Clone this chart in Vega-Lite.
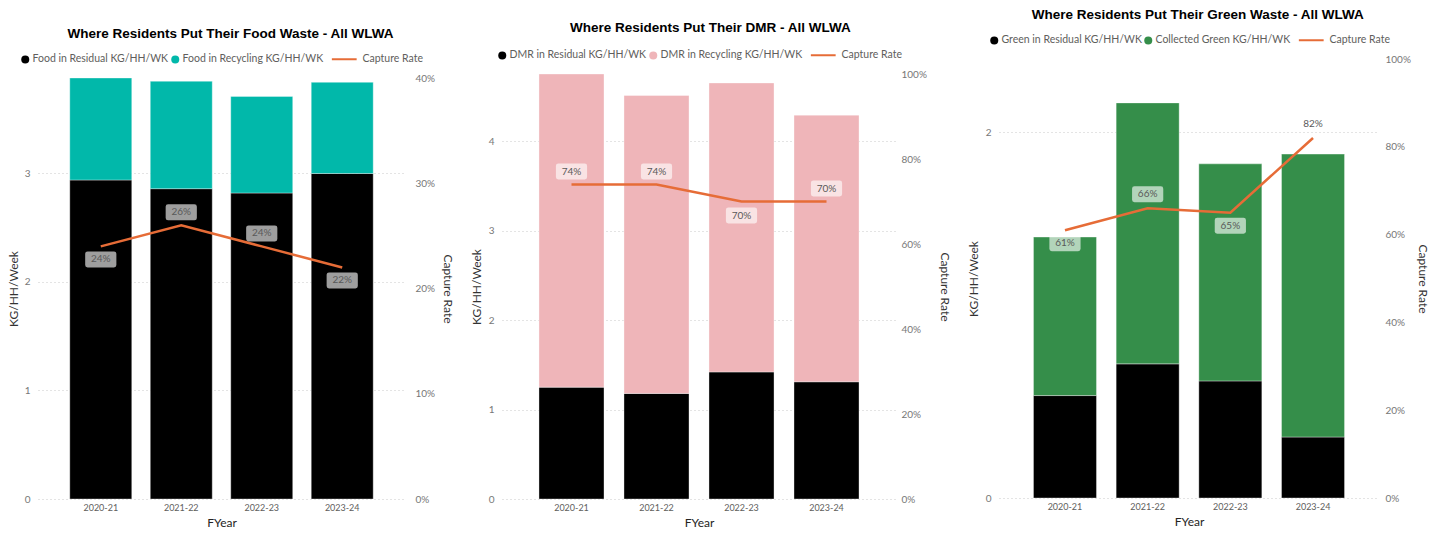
{
  "$schema": "https://vega.github.io/schema/vega-lite/v6.json",
  "background": "white",
  "padding": {"left": 7, "top": 0, "right": 0, "bottom": 0},
  "datasets": {
    "food": [
      {"FYear": "2020-21", "series": "Food in Residual KG/HH/WK", "kg": 2.94},
      {"FYear": "2020-21", "series": "Food in Recycling KG/HH/WK", "kg": 0.94},
      {"FYear": "2021-22", "series": "Food in Residual KG/HH/WK", "kg": 2.86},
      {"FYear": "2021-22", "series": "Food in Recycling KG/HH/WK", "kg": 0.99},
      {"FYear": "2022-23", "series": "Food in Residual KG/HH/WK", "kg": 2.82},
      {"FYear": "2022-23", "series": "Food in Recycling KG/HH/WK", "kg": 0.89},
      {"FYear": "2023-24", "series": "Food in Residual KG/HH/WK", "kg": 3.0},
      {"FYear": "2023-24", "series": "Food in Recycling KG/HH/WK", "kg": 0.84}
    ],
    "foodRate": [
      {"FYear": "2020-21", "rate": 0.24},
      {"FYear": "2021-22", "rate": 0.26},
      {"FYear": "2022-23", "rate": 0.24},
      {"FYear": "2023-24", "rate": 0.22}
    ],
    "dmr": [
      {"FYear": "2020-21", "series": "DMR in Residual KG/HH/WK", "kg": 1.25},
      {"FYear": "2020-21", "series": "DMR in Recycling KG/HH/WK", "kg": 3.5},
      {"FYear": "2021-22", "series": "DMR in Residual KG/HH/WK", "kg": 1.18},
      {"FYear": "2021-22", "series": "DMR in Recycling KG/HH/WK", "kg": 3.33},
      {"FYear": "2022-23", "series": "DMR in Residual KG/HH/WK", "kg": 1.42},
      {"FYear": "2022-23", "series": "DMR in Recycling KG/HH/WK", "kg": 3.23},
      {"FYear": "2023-24", "series": "DMR in Residual KG/HH/WK", "kg": 1.31},
      {"FYear": "2023-24", "series": "DMR in Recycling KG/HH/WK", "kg": 2.98}
    ],
    "dmrRate": [
      {"FYear": "2020-21", "rate": 0.74},
      {"FYear": "2021-22", "rate": 0.74},
      {"FYear": "2022-23", "rate": 0.7},
      {"FYear": "2023-24", "rate": 0.7}
    ],
    "green": [
      {"FYear": "2020-21", "series": "Green in Residual KG/HH/WK", "kg": 0.42},
      {"FYear": "2020-21", "series": "Collected Green KG/HH/WK", "kg": 0.65},
      {"FYear": "2021-22", "series": "Green in Residual KG/HH/WK", "kg": 0.55},
      {"FYear": "2021-22", "series": "Collected Green KG/HH/WK", "kg": 1.07},
      {"FYear": "2022-23", "series": "Green in Residual KG/HH/WK", "kg": 0.48},
      {"FYear": "2022-23", "series": "Collected Green KG/HH/WK", "kg": 0.89},
      {"FYear": "2023-24", "series": "Green in Residual KG/HH/WK", "kg": 0.25},
      {"FYear": "2023-24", "series": "Collected Green KG/HH/WK", "kg": 1.16}
    ],
    "greenRate": [
      {"FYear": "2020-21", "rate": 0.61},
      {"FYear": "2021-22", "rate": 0.66},
      {"FYear": "2022-23", "rate": 0.65},
      {"FYear": "2023-24", "rate": 0.82}
    ]
  },
  "hconcat": [
    {
      "spacing": 0,
      "resolve": {
        "scale": {"x": "independent", "y": "independent", "color": "independent", "stroke": "independent"},
        "legend": {"color": "independent", "stroke": "independent"}
      },
      "vconcat": [
        {"height": 26, "width": 1, "data": {"values": []}, "mark": "point"},
        {
          "width": 367,
          "height": 421,
          "title": {"text": "Where Residents Put Their Food Waste - All WLWA", "frame": "bounds", "anchor": "middle", "offset": 14},
          "encoding": {
            "x": {"field": "FYear", "type": "nominal", "scale": {"paddingInner": 0.23, "paddingOuter": 0.395}, "axis": {"title": "FYear", "labelAngle": 0, "labelPadding": 4, "titlePadding": 5}}
          },
          "layer": [
            {
              "data": {"name": "food"},
              "mark": {"type": "bar", "stroke": "white", "strokeOpacity": 0.35, "strokeWidth": 1},
              "encoding": {
                "y": {"field": "kg", "type": "quantitative", "stack": "zero", "scale": {"domain": [0, 3.88], "nice": false}, "axis": {"orient": "left", "title": "KG/HH/Week", "values": [0, 0.5, 1, 1.5, 2, 2.5, 3, 3.5], "format": "d", "grid": true, "labelPadding": 8, "titlePadding": 4}},
                "color": {"field": "series", "type": "nominal", "scale": {"domain": ["Food in Residual KG/HH/WK", "Food in Recycling KG/HH/WK"], "range": ["#000000", "#01B8AA"]}, "legend": {"orient": "top", "direction": "horizontal", "title": null, "symbolType": "circle", "symbolSize": 64, "labelOffset": 2, "columnPadding": 1, "symbolStrokeWidth": 0}},
                "order": {"field": "series", "sort": "descending"}
              }
            },
            {
              "data": {"name": "foodRate"},
              "encoding": {
                "y": {"field": "rate", "type": "quantitative", "scale": {"domain": [0, 0.4], "nice": false}, "axis": {"orient": "right", "title": "Capture Rate", "values": [0, 0.1, 0.2, 0.3, 0.4], "format": ".0%", "labelPadding": 10, "titlePadding": 6}}
              },
              "layer": [
                {"mark": {"type": "line", "strokeWidth": 2.5}, "encoding": {"stroke": {"datum": "Capture Rate", "scale": {"domain": ["Capture Rate"], "range": ["#E66C37"]}, "legend": {"orient": "top", "title": null, "symbolType": "M-3.1,0H3.1", "symbolSize": 64, "symbolStrokeWidth": 2, "labelOffset": 13}}}},
                {"transform": [{"filter": {"field": "FYear", "oneOf": ["2021-22", "2022-23"]}}], "mark": {"type": "point", "shape": "M-1.65,-1L1.65,-1Q1.95,-1 1.95,-0.7L1.95,0.7Q1.95,1 1.65,1L-1.65,1Q-1.95,1 -1.95,0.7L-1.95,-0.7Q-1.95,-1 -1.65,-1Z", "size": 256, "filled": true, "color": "white", "opacity": 0.62, "strokeWidth": 0, "yOffset": -13}},
                {"transform": [{"filter": {"field": "FYear", "oneOf": ["2021-22", "2022-23"]}}], "mark": {"type": "text", "fontSize": 10, "color": "#595959", "yOffset": -13}, "encoding": {"text": {"field": "rate", "format": ".0%"}}},
                {"transform": [{"filter": {"field": "FYear", "oneOf": ["2020-21", "2023-24"]}}], "mark": {"type": "point", "shape": "M-1.65,-1L1.65,-1Q1.95,-1 1.95,-0.7L1.95,0.7Q1.95,1 1.65,1L-1.65,1Q-1.95,1 -1.95,0.7L-1.95,-0.7Q-1.95,-1 -1.65,-1Z", "size": 256, "filled": true, "color": "white", "opacity": 0.62, "strokeWidth": 0, "yOffset": 13}},
                {"transform": [{"filter": {"field": "FYear", "oneOf": ["2020-21", "2023-24"]}}], "mark": {"type": "text", "fontSize": 10, "color": "#595959", "yOffset": 13}, "encoding": {"text": {"field": "rate", "format": ".0%"}}}
              ]
            }
          ],
          "resolve": {"scale": {"y": "independent"}, "axis": {"y": "independent"}}
        }
      ]
    },
    {
      "spacing": 0,
      "resolve": {
        "scale": {"x": "independent", "y": "independent", "color": "independent", "stroke": "independent"},
        "legend": {"color": "independent", "stroke": "independent"}
      },
      "vconcat": [
        {"height": 20, "width": 1, "data": {"values": []}, "mark": "point"},
        {
          "width": 394,
          "height": 425,
          "title": {"text": "Where Residents Put Their DMR - All WLWA", "frame": "bounds", "anchor": "middle", "offset": 16},
          "encoding": {
            "x": {"field": "FYear", "type": "nominal", "scale": {"paddingInner": 0.235, "paddingOuter": 0.435}, "axis": {"title": "FYear", "labelAngle": 0, "labelPadding": 4, "titlePadding": 5}}
          },
          "layer": [
            {
              "data": {"name": "dmr"},
              "mark": {"type": "bar", "stroke": "white", "strokeOpacity": 0.35, "strokeWidth": 1},
              "encoding": {
                "y": {"field": "kg", "type": "quantitative", "stack": "zero", "scale": {"domain": [0, 4.75], "nice": false}, "axis": {"orient": "left", "title": "KG/HH/Week", "values": [0, 1, 2, 3, 4], "format": "d", "grid": true, "labelPadding": 8, "titlePadding": 5}},
                "color": {"field": "series", "type": "nominal", "scale": {"domain": ["DMR in Residual KG/HH/WK", "DMR in Recycling KG/HH/WK"], "range": ["#000000", "#EFB5B9"]}, "legend": {"orient": "top", "direction": "horizontal", "title": null, "symbolType": "circle", "symbolSize": 64, "labelOffset": 2, "columnPadding": 1, "symbolStrokeWidth": 0}},
                "order": {"field": "series", "sort": "descending"}
              }
            },
            {
              "data": {"name": "dmrRate"},
              "encoding": {
                "y": {"field": "rate", "type": "quantitative", "scale": {"domain": [0, 1], "nice": false}, "axis": {"orient": "right", "title": "Capture Rate", "values": [0, 0.2, 0.4, 0.6, 0.8, 1], "format": ".0%", "labelPadding": 5, "titlePadding": 11}}
              },
              "layer": [
                {"mark": {"type": "line", "strokeWidth": 2.5}, "encoding": {"stroke": {"datum": "Capture Rate", "scale": {"domain": ["Capture Rate"], "range": ["#E66C37"]}, "legend": {"orient": "top", "title": null, "symbolType": "M-3.1,0H3.1", "symbolSize": 64, "symbolStrokeWidth": 2, "labelOffset": 13}}}},
                {"transform": [{"filter": {"field": "FYear", "oneOf": ["2020-21", "2021-22", "2023-24"]}}], "mark": {"type": "point", "shape": "M-1.65,-1L1.65,-1Q1.95,-1 1.95,-0.7L1.95,0.7Q1.95,1 1.65,1L-1.65,1Q-1.95,1 -1.95,0.7L-1.95,-0.7Q-1.95,-1 -1.65,-1Z", "size": 256, "filled": true, "color": "white", "opacity": 0.62, "strokeWidth": 0, "yOffset": -13}},
                {"transform": [{"filter": {"field": "FYear", "oneOf": ["2020-21", "2021-22", "2023-24"]}}], "mark": {"type": "text", "fontSize": 10, "color": "#595959", "yOffset": -13}, "encoding": {"text": {"field": "rate", "format": ".0%"}}},
                {"transform": [{"filter": {"field": "FYear", "oneOf": ["2022-23"]}}], "mark": {"type": "point", "shape": "M-1.65,-1L1.65,-1Q1.95,-1 1.95,-0.7L1.95,0.7Q1.95,1 1.65,1L-1.65,1Q-1.95,1 -1.95,0.7L-1.95,-0.7Q-1.95,-1 -1.65,-1Z", "size": 256, "filled": true, "color": "white", "opacity": 0.62, "strokeWidth": 0, "yOffset": 14}},
                {"transform": [{"filter": {"field": "FYear", "oneOf": ["2022-23"]}}], "mark": {"type": "text", "fontSize": 10, "color": "#595959", "yOffset": 14}, "encoding": {"text": {"field": "rate", "format": ".0%"}}}
              ]
            }
          ],
          "resolve": {"scale": {"y": "independent"}, "axis": {"y": "independent"}}
        }
      ]
    },
    {
      "spacing": 0,
      "resolve": {
        "scale": {"x": "independent", "y": "independent", "color": "independent", "stroke": "independent"},
        "legend": {"color": "independent", "stroke": "independent"}
      },
      "vconcat": [
        {"height": 7, "width": 1, "data": {"values": []}, "mark": "point"},
        {
          "width": 380,
          "height": 439,
          "title": {"text": "Where Residents Put Their Green Waste - All WLWA", "frame": "bounds", "anchor": "middle", "offset": 14},
          "encoding": {
            "x": {"field": "FYear", "type": "nominal", "scale": {"paddingInner": 0.238, "paddingOuter": 0.417}, "axis": {"title": "FYear", "labelAngle": 0, "labelPadding": 4, "titlePadding": 5}}
          },
          "layer": [
            {
              "data": {"name": "green"},
              "mark": {"type": "bar", "stroke": "white", "strokeOpacity": 0.35, "strokeWidth": 1},
              "encoding": {
                "y": {"field": "kg", "type": "quantitative", "stack": "zero", "scale": {"domain": [0, 1.8], "nice": false}, "axis": {"orient": "left", "title": "KG/HH/Week", "values": [0, 0.5, 1, 1.5], "format": "d", "grid": true, "labelPadding": 8, "titlePadding": 5}},
                "color": {"field": "series", "type": "nominal", "scale": {"domain": ["Green in Residual KG/HH/WK", "Collected Green KG/HH/WK"], "range": ["#000000", "#358E4A"]}, "legend": {"orient": "top", "direction": "horizontal", "title": null, "symbolType": "circle", "symbolSize": 64, "labelOffset": 2, "columnPadding": 1, "symbolStrokeWidth": 0}},
                "order": {"field": "series", "sort": "descending"}
              }
            },
            {
              "data": {"name": "greenRate"},
              "encoding": {
                "y": {"field": "rate", "type": "quantitative", "scale": {"domain": [0, 1], "nice": false}, "axis": {"orient": "right", "title": "Capture Rate", "values": [0, 0.2, 0.4, 0.6, 0.8, 1], "format": ".0%", "labelPadding": 6, "titlePadding": 5}}
              },
              "layer": [
                {"mark": {"type": "line", "strokeWidth": 2.5}, "encoding": {"stroke": {"datum": "Capture Rate", "scale": {"domain": ["Capture Rate"], "range": ["#E66C37"]}, "legend": {"orient": "top", "title": null, "symbolType": "M-3.1,0H3.1", "symbolSize": 64, "symbolStrokeWidth": 2, "labelOffset": 13}}}},
                {"transform": [{"filter": {"field": "FYear", "oneOf": ["2021-22", "2023-24"]}}], "mark": {"type": "point", "shape": "M-1.65,-1L1.65,-1Q1.95,-1 1.95,-0.7L1.95,0.7Q1.95,1 1.65,1L-1.65,1Q-1.95,1 -1.95,0.7L-1.95,-0.7Q-1.95,-1 -1.65,-1Z", "size": 256, "filled": true, "color": "white", "opacity": 0.62, "strokeWidth": 0, "yOffset": -14}},
                {"transform": [{"filter": {"field": "FYear", "oneOf": ["2021-22", "2023-24"]}}], "mark": {"type": "text", "fontSize": 10, "color": "#595959", "yOffset": -14}, "encoding": {"text": {"field": "rate", "format": ".0%"}}},
                {"transform": [{"filter": {"field": "FYear", "oneOf": ["2020-21", "2022-23"]}}], "mark": {"type": "point", "shape": "M-1.65,-1L1.65,-1Q1.95,-1 1.95,-0.7L1.95,0.7Q1.95,1 1.65,1L-1.65,1Q-1.95,1 -1.95,0.7L-1.95,-0.7Q-1.95,-1 -1.65,-1Z", "size": 256, "filled": true, "color": "white", "opacity": 0.62, "strokeWidth": 0, "yOffset": 13}},
                {"transform": [{"filter": {"field": "FYear", "oneOf": ["2020-21", "2022-23"]}}], "mark": {"type": "text", "fontSize": 10, "color": "#595959", "yOffset": 13}, "encoding": {"text": {"field": "rate", "format": ".0%"}}}
              ]
            }
          ],
          "resolve": {"scale": {"y": "independent"}, "axis": {"y": "independent"}}
        }
      ]
    }
  ],
  "spacing": 16,
  "resolve": {
    "scale": {"x": "independent", "y": "independent", "color": "independent", "stroke": "independent"},
    "legend": {"color": "independent", "stroke": "independent"}
  },
  "config": {
    "view": {"stroke": null},
    "font": "Lato",
    "title": {"font": "Liberation Sans", "fontSize": 13.5, "fontWeight": "bold", "color": "#000000"},
    "axis": {"labelFont": "Lato", "labelFontSize": 10, "labelColor": "#777777", "titleFont": "Lato", "titleFontSize": 12, "titleFontWeight": "normal", "titleColor": "#333333", "domain": false, "ticks": false, "grid": false, "gridColor": "#C8C8C8", "gridDash": [1, 3]},
    "axisX": {"labelColor": "#605E5C", "titleColor": "#252423", "labelFontSize": 9},
    "legend": {"labelFont": "Lato", "labelFontSize": 10.5, "labelColor": "#605E5C", "offset": 13, "layout": {"top": {"anchor": "middle", "direction": "horizontal", "margin": 15}}}
  }
}
